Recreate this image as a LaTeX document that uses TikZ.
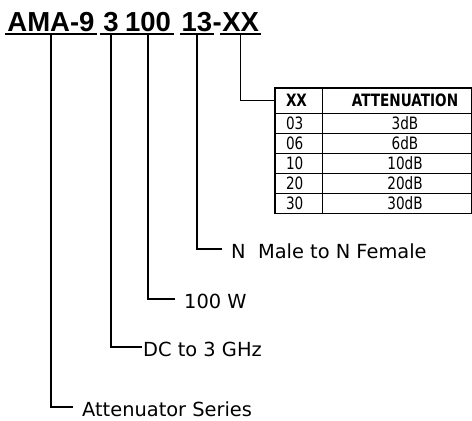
\documentclass[tikz,border=0pt]{standalone}
\usepackage{fontspec}
\usepackage{graphicx}
\setmainfont{DejaVu Sans}
\newfontfamily\titlefont{Liberation Sans}
\newcommand{\narrowtxt}[1]{\scalebox{0.8}[1]{#1}}
\begin{document}
\begin{tikzpicture}[x=1pt,y=-1pt,
  title/.style={font=\titlefont\bfseries\fontsize{27.5}{28}\selectfont, inner sep=0pt, anchor=base, text depth=0pt},
  lab/.style={font=\fontsize{19.4}{20}\selectfont, inner ysep=0pt, inner xsep=9pt, text height=18pt, text depth=0pt, anchor=west},
  conn/.style={line width=1.5pt},
  ul/.style={line width=1.5pt},
  cellA/.style={draw, line width=1pt, inner ysep=0pt, inner xsep=11pt, text width=25pt, align=left, minimum width=47pt, font=\fontsize{17}{17}\selectfont},
  cellB/.style={draw, line width=1pt, inner sep=0pt, minimum width=149pt},
  celltxt/.style={inner sep=0pt, font=\fontsize{17}{17}\selectfont},
  hdr/.style={minimum height=25pt, font=\bfseries\fontsize{17}{17}\selectfont},
  row/.style={minimum height=20pt}
]
\useasboundingbox[fill=white] (0,0) rectangle (472,421);

% title
\node[title] (t1) at (51,31.5) {AMA-9};
\node[title] (t2) at (111,31.5) {3};
\node[title] (t3) at (148,31.5) {100};
\node[title] (t4) at (197,31.5) {13};
\node[title, anchor=base west] (th) at (t4.base east) {-};
\node[title, anchor=base west] (t5) at (th.base east) {XX};

\foreach \n/\p in {t1/2,t2/3,t3/3,t4/2,t5/2}{
  \draw[ul] ([xshift=-\p pt,yshift=-2.5pt]\n.south west) -- ([xshift=\p pt,yshift=-2.5pt]\n.south east);
}

% table
\node[cellA, hdr] (hXX) at (298.5,100.5) {\narrowtxt{XX}};
\node[cellB, hdr] (hAT) at (396.5,100.5) {};
\node[celltxt, font=\bfseries\fontsize{17}{17}\selectfont] (hATt) at (405,100.5) {\narrowtxt{ATTENUATION}};
\foreach \i/\c/\v/\y in {1/03/3dB/123, 2/06/6dB/143, 3/10/10dB/163, 4/20/20dB/183, 5/30/30dB/203}{
  \node[cellA, row] (c\i) at (298.5,\y) {\narrowtxt{\c}};
  \node[cellB, row] (v\i) at (396.5,\y) {};
  \node[celltxt] (vt\i) at (405,\y) {\narrowtxt{\v}};
}
\draw[line width=1.5pt] (hXX.north west) rectangle (v5.south east);
\draw[line width=1.5pt] (hXX.north east) -- (c5.south east);

% labels
\node[lab] (l4) at (222,249) {N\ \ Male to N Female};
\node[lab] (l3) at (175,299) {100 W};
\node[lab, inner xsep=1pt] (l2) at (142,347) {DC to 3 GHz};
\node[lab] (l1) at (73,407) {Attenuator Series};

% connectors
\draw[conn] ([yshift=-2.5pt]t5.south) |- (hXX.west);
\draw[conn] ([yshift=-2.5pt]t4.south) |- (l4.west);
\draw[conn] ([yshift=-2.5pt]t3.south) |- (l3.west);
\draw[conn] ([yshift=-2.5pt]t2.south) |- (l2.west);
\draw[conn] ([yshift=-2.5pt]t1.south) |- (l1.west);
\end{tikzpicture}
\end{document}
